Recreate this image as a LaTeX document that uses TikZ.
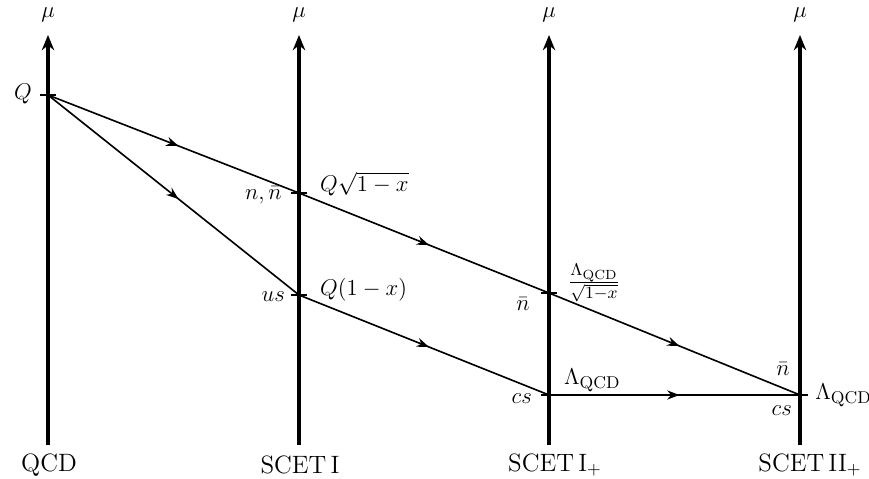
\documentclass[tikz,border=0pt]{standalone}
\usetikzlibrary{arrows.meta,decorations.markings}
\begin{document}
\begin{tikzpicture}[x=0.526pt,y=-0.526pt,
  every node/.style={font=\fontsize{13.2}{16}\selectfont, inner sep=2pt},
  axis/.style={line width=2.1pt,-{Stealth[length=8pt,width=6.5pt]}},
  flow/.style={line width=0.85pt,postaction={decorate},
    decoration={markings,mark=at position 0.52 with {\arrow{Stealth[length=6.5pt,width=4.8pt]}}}},
  tick/.style={line width=0.85pt}]
\useasboundingbox (0,0) rectangle (869,479);
% axes
\foreach \n/\x in {a/48,b/299,c/549,d/800}{
  \coordinate (\n0) at (\x,445);
  \coordinate (\n1) at (\x,35);
  \draw[axis] (\n0) -- (\n1);
  \node (mu\n) at (\x,15) {$\mu$};
}
\node (lqcd) at (49,465) {QCD};
\node (lscet1) at (300,465) {SCET\,I};
\node (lscet1p) at (555,465) {SCET\,I$_+$};
\node (lscet2p) at (810,465) {SCET\,II$_+$};
% points
\coordinate (Q) at (48,95);
\coordinate (P1) at (299,193);
\coordinate (P2) at (299,295);
\coordinate (P3) at (549,293);
\coordinate (P4) at (549,395);
\coordinate (P5) at (800,395);
% ticks
\foreach \p in {Q,P1,P2,P3,P4,P5}{
  \draw[tick] ([xshift=-4pt]\p) -- ([xshift=4pt]\p);
}
% lines
\draw[flow] (Q) -- (P1);
\draw[flow] (Q) -- (P2);
\draw[flow] (P1) -- (P3);
\draw[flow] (P2) -- (P4);
\draw[flow] (P3) -- (P5);
\draw[flow] (P4) -- (P5);
% labels
\node[anchor=east] (lQ) at (36,94) {$Q$};
\node[anchor=east] (lnn) at (286,195) {$n,\bar n$};
\node[anchor=west] (lq1) at (316,184) {$Q\sqrt{1-x}$};
\node[anchor=east] (lus) at (289,297) {$us$};
\node[anchor=west] (lq2) at (316,290) {$Q(1-x)$};
\node[anchor=east] (lnb1) at (534,304) {$\bar n$};
\node[anchor=west] (lfrac) at (564,283) {$\frac{\Lambda_{\rm QCD}}{\sqrt{1-x}}$};
\node[anchor=west] (llam1) at (560,380) {$\Lambda_{\rm QCD}$};
\node[anchor=east] (lcs1) at (536,399) {$cs$};
\node[anchor=east] (lnb2) at (794,369) {$\bar n$};
\node[anchor=east] (lcs2) at (796,411) {$cs$};
\node[anchor=west,inner sep=0pt] (llam2) at (815,395) {$\Lambda_{\rm QCD}$};
\end{tikzpicture}
\end{document}
